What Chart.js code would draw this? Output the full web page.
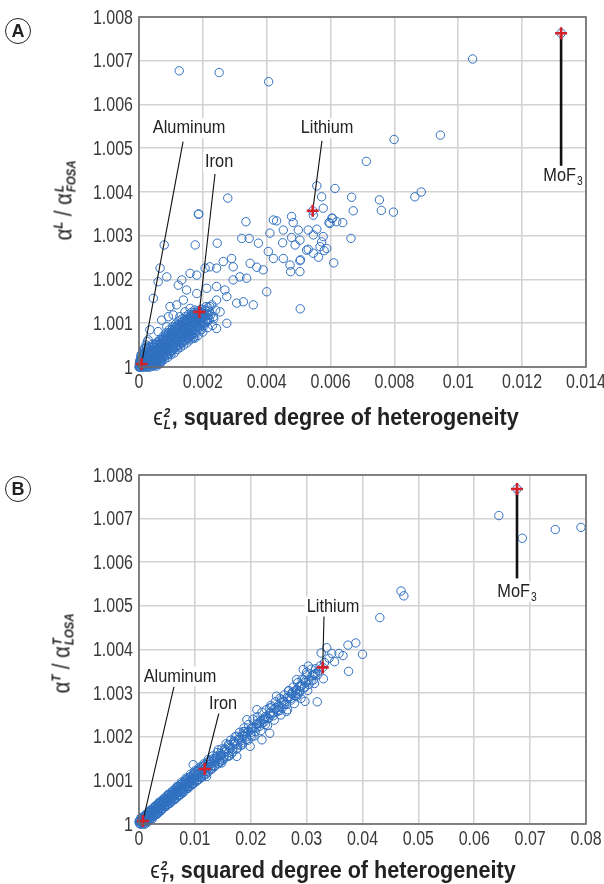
<!DOCTYPE html>
<html>
<head>
<meta charset="utf-8">
<script src="https://cdn.jsdelivr.net/npm/chart.js@4.4.1/dist/chart.umd.min.js"></script>
<style>
  body { margin: 0; background: #fff; }
  #wrap { position: relative; width: 604px; height: 884px; overflow: hidden;
          font-family: 'Liberation Sans', Arial, sans-serif; color: #222; }
  .panel { position: absolute; left: 0; width: 604px; height: 442px; }
  .tag { position: absolute; width: 24px; height: 24px; border: 1.5px solid #222; border-radius: 50%;
         font: bold 18px 'Liberation Sans', sans-serif; line-height: 24px; text-align: center; }
  .xt { position: absolute; transform: translate(-50%, -50%) scaleX(0.9); white-space: nowrap; font-size: 24px; font-weight: bold; }
  .yt { position: absolute; transform: translate(-50%, -50%) rotate(-90deg) scaleX(0.88); white-space: nowrap; font-size: 23px; }
  .ss { display: inline-flex; flex-direction: column; vertical-align: middle; font-size: 13px; line-height: 12px;
        font-weight: bold; font-style: italic; margin: 0 1px; }
  .sup1 { font-size: 13px; font-weight: bold; font-style: italic; vertical-align: 9px; }
</style>
</head>
<body>
<div id="wrap">
  <div class="panel" style="top:0"><canvas id="chartA" width="604" height="442"></canvas></div>
  <div class="panel" style="top:442px"><canvas id="chartB" width="604" height="442"></canvas></div>
  <div class="tag" style="left:5px;top:18px">A</div>
  <div class="tag" style="left:5px;top:476px">B</div>
  <div class="yt" style="left:64px;top:200px">α<span class="sup1">L</span> / α<span class="ss"><span>L</span><span>FOSA</span></span></div>
  <div class="yt" style="left:62px;top:653px">α<span class="sup1">T</span> / α<span class="ss"><span>T</span><span>LOSA</span></span></div>
  <div class="xt" style="left:336px;top:417px"><span style="font-weight:normal">ϵ</span><span class="ss"><span>2</span><span>L</span></span>, squared degree of heterogeneity</div>
  <div class="xt" style="left:333px;top:870px"><span style="font-weight:normal">ϵ</span><span class="ss"><span>2</span><span>T</span></span>, squared degree of heterogeneity</div>
</div>
<script>
// tick values and labels
const yTicks = [1, 1.001, 1.002, 1.003, 1.004, 1.005, 1.006, 1.007, 1.008];
const yTickLabels = ['1', '1.001', '1.002', '1.003', '1.004', '1.005', '1.006', '1.007', '1.008'];
const xTicksA = [0, 0.002, 0.004, 0.006, 0.008, 0.01, 0.012, 0.014];
const xTickLabelsA = ['0', '0.002', '0.004', '0.006', '0.008', '0.01', '0.012', '0.014'];
const xTicksB = [0, 0.01, 0.02, 0.03, 0.04, 0.05, 0.06, 0.07, 0.08];
const xTickLabelsB = ['0', '0.01', '0.02', '0.03', '0.04', '0.05', '0.06', '0.07', '0.08'];

// named materials
const materials = ['Aluminum', 'Iron', 'Lithium', 'MoF3'];
const markedA = [[0.00008, 1.00007], [0.00189, 1.00126], [0.00544, 1.00357], [0.01322, 1.00763]];
const markedB = [[0.0007, 1.00007], [0.01175, 1.00126], [0.03288, 1.00359], [0.06765, 1.00768]];

// panel A: eps_L^2 vs alpha_L / alpha_L,FOSA
const coreA = [
  [0,1],[0.00002,1.00002],[0.00005,1.00006],[0.00008,1.00003],[0.0001,1.0001],[0.00012,1.00005],[0.00015,1.00015],[0.00018,1.00008],
  [0.0002,1.0002],[0.00022,1.00012],[0.00025,1.00005],[0.00028,1.00025],[0.0003,1.00015],[0.00033,1.00032],[0.00035,1.00008],[0.00038,1.00022],
  [0.0004,1.0004],[0.00042,1.00012],[0.00045,1.0003],[0.00048,1.00048],[0.0005,1.0002],[0.00052,1.00038],[0.00055,1.00055],[0.00058,1.0001],
  [0.0006,1.0003],[0.00062,1.00045],[0.00065,1.00062],[0.00068,1.00022],[0.0007,1.00038],[0.00072,1.00052],[0.00075,1.0007],[0.00078,1.0003],
  [0.0008,1.00045],[0.00082,1.0006],[0.00085,1.00078],[0.00088,1.00035],[0.0009,1.00052],[0.00092,1.00068],[0.00095,1.00085],[0.00098,1.00042],
  [0.001,1.00058],[0.00102,1.00075],[0.00105,1.00092],[0.00108,1.0005],[0.0011,1.00065],[0.00112,1.00082],[0.00115,1.00098],[0.00118,1.00055],
  [0.0012,1.00072],[0.00122,1.00088],[0.00125,1.00105],[0.00128,1.0006],[0.0013,1.00078],[0.00132,1.00095],[0.00135,1.0011],[0.00138,1.00068],
  [0.0014,1.00085],[0.00142,1.001],[0.00145,1.00115],[0.00148,1.00072],[0.0015,1.0009],[0.00152,1.00105],[0.00155,1.0012],[0.00158,1.0008],
  [0.0016,1.00095],[0.00162,1.00112],[0.00165,1.00125],[0.00168,1.00085],[0.0017,1.00102],[0.00172,1.00118],[0.00175,1.0013],[0.0018,1.00092],
  [0.00182,1.00108],[0.00185,1.00122],[0.0019,1.001],[0.00192,1.00115],[0.00195,1.00132],[0.002,1.00105],[0.00205,1.0012],[0.0021,1.00138],
  [0.00215,1.0011],[0.0022,1.00128],[0.0023,1.00095],
  [0.00003,1.0001],[0.00006,1],[0.0001,1],[0.00013,1.0002],[0.00017,1.0003],[0.0002,1],[0.00024,1.00036],[0.00005,1.00018],[0.00008,1.00025],
  [0.00011,1.0003],[0.00014,1.0004],[0.0003,1],[0.0004,1.00004],[0.00002,1.00014],[0.00007,1.00012],[0.00016,1.00002],[0.00026,1.00018],
  [0.00036,1.00028],[0.00046,1.0004],[0.00056,1.00046],[0.00066,1.00052],[0.00076,1.0006],[0.00086,1.00066],[0.00096,1.00072],[0.00106,1.0008],
  [0.00116,1.00086],[0.00126,1.00092],[0.00136,1.00098],[0.00146,1.00102],[0.00156,1.00108],[0.00166,1.00114],[0.00176,1.00116],[0.0005,1.00005],
  [0.00062,1.00015],[0.00072,1.0002],[0.00084,1.00025],[0.00095,1.0003],[0.00105,1.00038],[0.00115,1.00045],[0.00125,1.00048],[0.00135,1.00055],
  [0.00145,1.0006],[0.00155,1.00066],[0.00165,1.00072],[0.00178,1.00078],[0.00195,1.00085],
  [0.00003,1.00005],[0.00007,1.00017],[0.00009,1.00007],[0.00013,1.00011],[0.00016,1.00024],[0.00019,1.00014],[0.00021,1.00028],[0.00023,1.00007],
  [0.00027,1.0001],[0.00029,1.00034],[0.00031,1.00022],[0.00034,1.00016],[0.00037,1.00038],[0.00039,1.00012],[0.00041,1.00027],[0.00043,1.00045],
  [0.00044,1.0002],[0.00047,1.0001],[0.00049,1.00033],[0.00051,1.00052],[0.00053,1.00015],[0.00054,1.00027],[0.00057,1.00041],[0.00059,1.00058],
  [0.00061,1.00022],[0.00063,1.00035],[0.00064,1.0005],[0.00067,1.00012],[0.00069,1.0003],[0.00071,1.00045],[0.00073,1.00063],[0.00074,1.00025],
  [0.00077,1.0004],[0.00079,1.00055],[0.00081,1.00036],[0.00083,1.00072],[0.00086,1.00048],[0.00087,1.00028],[0.00089,1.00062],[0.00091,1.00042],
  [0.00093,1.00078],[0.00094,1.00056],[0.00097,1.00036],[0.00099,1.00068],[0.00101,1.00048],[0.00103,1.00085],[0.00104,1.00062],[0.00107,1.00042],
  [0.00109,1.00074],[0.00111,1.00056],[0.00113,1.0009],[0.00114,1.00068],[0.00117,1.00048],[0.00119,1.0008],[0.00121,1.00062],[0.00123,1.00097],
  [0.00124,1.00075],[0.00127,1.00052],[0.00129,1.00086],[0.00131,1.00068],[0.00133,1.00102],[0.00134,1.0008],[0.00137,1.0006],[0.00139,1.00092],
  [0.00141,1.00074],[0.00143,1.00107],[0.00144,1.00086],[0.00147,1.00066],[0.00149,1.00098],[0.00151,1.0008],[0.00153,1.00112],[0.00154,1.00092],
  [0.00157,1.0007],[0.00159,1.00104],[0.00161,1.00086],[0.00163,1.00118],[0.00164,1.00098],[0.00167,1.00076],[0.00169,1.0011],[0.00171,1.00092],
  [0.00173,1.00124],[0.00174,1.00104],[0.00177,1.00084],[0.00179,1.00114],[0.00181,1.00098],[0.00183,1.00128],[0.00186,1.0011],[0.00188,1.0009],
  [0.0019,1.0012],[0.00193,1.00104],[0.00196,1.00124],[0.00198,1.00095],[0.00202,1.00114],[0.00206,1.0013],[0.00208,1.00102],[0.00212,1.00122],
  [0.00216,1.00136],[0.0022,1.00108],[0.00225,1.0012],[0.00228,1.00142],[0.00234,1.0011],[0.0024,1.0013],[0.00012,1.00034],[0.00018,1.00042],
  [0.00022,1.0005],[0.00026,1.00058],[0.0001,1.00022],[0.00006,1.00028],[0.00004,1],[0.00014,1],[0.00024,1],[0.00035,1],
  [0.00045,1.00002],[0.00055,1.00002],[0.00062,1.00006],[0.0007,1.00012],[0.0008,1.00018],[0.0009,1.00022],[0.001,1.00028],[0.0011,1.00032],
  [0.0012,1.0004],[0.0013,1.00045],[0.0014,1.0005],[0.0015,1.00055],[0.0016,1.00062],[0.0017,1.00066],[0.00185,1.00072],[0.002,1.0008],
  [0.00215,1.0009]
];
const denseA = [
  [0.00001,1.00008],[0.00004,1.00013],[0.00006,1.00022],[0.00009,1.00015],[0.00011,1.00004],[0.00014,1.00028],[0.00017,1.00018],[0.00019,1.00006],
  [0.00021,1.00036],[0.00024,1.00024],[0.00026,1.0001],[0.00027,1.00042],[0.00031,1.0003],[0.00032,1.00006],[0.00034,1.00046],[0.00037,1.00018],
  [0.00039,1.00034],[0.00042,1.00052],[0.00043,1.00024],[0.00046,1.00014],[0.00047,1.00036],[0.0005,1.00044],[0.00052,1.00028],[0.00053,1.00006],
  [0.00056,1.00036],[0.00058,1.0005],[0.0006,1.00018],[0.00063,1.00042],[0.00064,1.00027],[0.00067,1.00056],[0.00069,1.00044],[0.0007,1.00016],
  [0.00073,1.00034],[0.00075,1.0005],[0.00077,1.00064],[0.00079,1.00024],[0.00081,1.00048],[0.00083,1.0004],[0.00086,1.00058],[0.00088,1.00072],
  [0.0009,1.0003],[0.00092,1.00046],[0.00094,1.00064],[0.00097,1.00052],[0.00099,1.00078],[0.00101,1.00036],[0.00103,1.0006],[0.00105,1.0007],
  [0.00107,1.00084],[0.00109,1.00044],[0.00111,1.00066],[0.00113,1.00076],[0.00116,1.00092],[0.00118,1.00062],[0.0012,1.0005],[0.00122,1.0008],
  [0.00124,1.00068],[0.00126,1.00096],[0.00128,1.00074],[0.00131,1.00056],[0.00133,1.00086],[0.00135,1.00076],[0.00137,1.00104],[0.00139,1.0008],
  [0.00141,1.00062],[0.00143,1.00092],[0.00146,1.00082],[0.00148,1.00108],[0.0015,1.00076],[0.00152,1.00066],[0.00154,1.00098],[0.00156,1.00088],
  [0.00158,1.00114],[0.0016,1.0008],[0.00163,1.00074],[0.00165,1.00104],[0.00167,1.00094],[0.0017,1.0012],[0.00172,1.00086],[0.00174,1.0008],
  [0.00176,1.0011],[0.00179,1.001],[0.00181,1.00124],[0.00184,1.00092],[0.00187,1.00116],[0.00189,1.00106],[0.00192,1.00126],[0.00194,1.00098],
  [0.00197,1.00112],[0.002,1.00122],[0.00203,1.001],[0.00207,1.00116],[0.00211,1.00128],[0.00214,1.00104],[0.00218,1.00118],[0.00002,1],
  [0.00008,1.00009],[0.00015,1.00009],[0.00028,1.00002],[0.0004,1.00008],[0.00048,1.00016],[0.00055,1.00012],[0.00066,1.00008]
];
const spreadA = [
  [0.00278,1.00386],[0.00186,1.00349],[0.00187,1.0035],[0.00079,1.00279],[0.00176,1.00279],[0.00245,1.00283],[0.00335,1.00332],[0.00322,1.00294],
  [0.00345,1.00294],[0.00374,1.00283],[0.0041,1.00306],[0.00421,1.00336],[0.00431,1.00334],[0.00452,1.00313],[0.00478,1.00344],[0.0045,1.00284],
  [0.00405,1.00264],[0.00421,1.00248],[0.00452,1.00248],[0.00473,1.00233],[0.00504,1.00243],[0.00525,1.00267],[0.00546,1.0026],[0.00562,1.00251],
  [0.00588,1.00271],[0.00572,1.00286],[0.00598,1.00328],[0.00619,1.00332],[0.00577,1.00298],[0.00504,1.00218],[0.004,1.00172],[0.00358,1.00142],
  [0.00327,1.00149],[0.00389,1.00222],[0.00369,1.00228],[0.00337,1.00203],[0.00348,1.00237],[0.00316,1.00206],[0.00295,1.00199],[0.00295,1.00229],
  [0.0029,1.00248],[0.00264,1.00241],[0.00243,1.00226],[0.00222,1.00229],[0.00207,1.00226],[0.00181,1.0021],[0.0016,1.00214],[0.00134,1.00199],
  [0.00123,1.00187],[0.00149,1.00176],[0.00181,1.00168],[0.00212,1.0018],[0.00243,1.00184],[0.00269,1.00176],[0.00275,1.00161],[0.00243,1.00153],
  [0.00222,1.00138],[0.00254,1.00126],[0.00233,1.00115],[0.00201,1.00092],[0.0017,1.00069],[0.00243,1.00088],[0.00275,1.001],[0.00306,1.00146],
  [0.00066,1.00226],[0.00087,1.00206],[0.0006,1.00195],[0.00045,1.00157],[0.00097,1.00138],[0.00092,1.00115],[0.00071,1.00107],[0.00118,1.00142],
  [0.00139,1.00153],[0.00144,1.00126],[0.0016,1.00134],[0.00128,1.00115],[0.00107,1.00119],[0.00087,1.00092],[0.0006,1.00081],[0.00034,1.00085],
  [0.00029,1.00062],[0.00024,1.00046],[0.0017,1.00114],[0.00196,1.00123],[0.00212,1.00107],[0.00191,1.00085],[0.00175,1.00066],[0.00144,1.00081],
  [0.00118,1.00092]
];
const farA = [
  [0.00126,1.00677],[0.00251,1.00673],[0.00406,1.00652],[0.01045,1.00704],[0.00944,1.0053],[0.00799,1.0052],[0.00712,1.0047],[0.00884,1.004],
  [0.00864,1.00389],[0.00753,1.00382],[0.00759,1.00358],[0.00797,1.00354],[0.00614,1.00408],[0.00666,1.00388],[0.00671,1.00357],[0.00557,1.00414],
  [0.00572,1.00389],[0.00577,1.00363],[0.00638,1.0033],[0.00595,1.0033],[0.00606,1.0034],[0.00664,1.00294],[0.0061,1.00238],[0.00505,1.00133],
  [0.00483,1.0033],[0.00499,1.00313],[0.0053,1.00313],[0.00557,1.00315],[0.00546,1.00302],[0.00478,1.00296],[0.00504,1.0029],[0.00489,1.00279],
  [0.0053,1.00269],[0.00567,1.00275],[0.0058,1.00266],[0.00506,1.00245],[0.00475,1.00218],[0.00546,1.00347],[0.00604,1.0034]
];

// panel B: eps_T^2 vs alpha_T / alpha_T,LOSA
const coreB = [
  [0.0001,1.00002],[0.0003,1.00005],[0.0005,1.00003],[0.0006,1.00008],[0.0008,1.00006],[0.001,1.00012],[0.0012,1.0001],[0.0014,1.00017],
  [0.0015,1.00012],[0.0017,1.0002],[0.0019,1.00018],[0.002,1.00025],[0.0022,1.0002],[0.0024,1.00028],[0.0026,1.00025],[0.0028,1.00032],
  [0.003,1.0003],[0.0032,1.00038],[0.0034,1.00034],[0.0036,1.00042],[0.0038,1.00038],[0.004,1.00046],[0.0042,1.00043],[0.0044,1.0005],
  [0.0046,1.00047],[0.0048,1.00055],[0.005,1.0005],[0.0052,1.0006],[0.0054,1.00056],[0.0056,1.00064],[0.0058,1.0006],[0.006,1.00068],
  [0.0062,1.00063],[0.0064,1.00072],[0.0066,1.00068],[0.0068,1.00076],[0.007,1.00072],[0.0072,1.00082],[0.0074,1.00077],[0.0076,1.00086],
  [0.0078,1.0008],[0.008,1.0009],[0.0082,1.00085],[0.0085,1.00095],[0.0088,1.00092],[0.009,1.001],[0.0093,1.00096],[0.0096,1.00106],
  [0.0099,1.00103],[0.0102,1.00112],[0.0105,1.00108],[0.0108,1.00118],[0.0111,1.00115],[0.0114,1.00124],[0.0117,1.0012],[0.012,1.0013],
  [0.0123,1.00128],[0.0126,1.00136],[0.013,1.00133],[0.0133,1.00144],[0.0137,1.00142],[0.014,1.0015],[0.0144,1.00148],[0.0148,1.00158],
  [0.0152,1.00155],[0.0156,1.00166],[0.016,1.00164],[0.0164,1.00174],[0.0168,1.00172],[0.0172,1.00184],[0.0176,1.00182],[0.018,1.00193],
  [0.0184,1.00192],[0.0188,1.00202],[0.0192,1.002],[0.0196,1.00212],[0.02,1.0021],[0.0205,1.0022],[0.021,1.0022],[0.0215,1.00232],
  [0.022,1.0023],[0.0225,1.00242],[0.023,1.00242],[0.0235,1.00255],[0.024,1.00255],[0.0245,1.00266],[0.025,1.00268],[0.0255,1.00278],
  [0.026,1.0028],[0.0265,1.0029],[0.027,1.00292],[0.0275,1.00302],[0.028,1.00305],[0.0286,1.00315],[0.0292,1.00318],[0.0298,1.00328],
  [0.0304,1.0033],[0.031,1.0034],[0.0316,1.00345],[0.0322,1.00352],
  [0.0002,1],[0.0004,1.00009],[0.0007,1],[0.0009,1.00014],[0.0011,1.00005],[0.0013,1.0002],[0.0016,1.0001],[0.0018,1.00026],
  [0.0021,1.00014],[0.0023,1.00032],[0.0027,1.0002],[0.0029,1.00038],[0.0033,1.00028],[0.0035,1.00046],[0.0039,1.00032],[0.0041,1.00052],
  [0.0045,1.0004],[0.0047,1.0006],[0.0051,1.00045],[0.0053,1.00066],[0.0057,1.00054],[0.0059,1.00072],[0.0063,1.00058],[0.0065,1.00078],
  [0.0069,1.00066],[0.0071,1.00086],[0.0075,1.00072],[0.0077,1.00092],[0.0081,1.0008],[0.0084,1.00102],[0.0087,1.00086],[0.0091,1.00108],
  [0.0095,1.00092],[0.0098,1.00114],[0.0101,1.00102],[0.0106,1.00122],[0.011,1.00108],[0.0115,1.00132],[0.012,1.0012],[0.0125,1.00144],
  [0.0132,1.00128],[0.0138,1.00154],[0.0146,1.00142],[0.0154,1.00172],[0.0162,1.00156],[0.017,1.0019],[0.0182,1.0018],[0.019,1.00212],
  [0.0202,1.002],[0.0212,1.00238],[0.0226,1.00228],[0.0238,1.00268],[0.0252,1.0026],[0.0268,1.00305],[0.0282,1.00292],[0.03,1.00342],
  [0.0312,1.0033],
  [0.0004,1.00015],[0.0008,1],[0.0012,1.00022],[0.0016,1.00005],[0.002,1.00032],[0.0024,1.00012],[0.0028,1.0004],[0.0032,1.00022],
  [0.0036,1.0005],[0.004,1.00032],[0.0044,1.00058],[0.0048,1.0004],[0.0052,1.00068],[0.0056,1.00048],[0.006,1.00076],[0.0064,1.00056],
  [0.0068,1.00086],[0.0072,1.00066],[0.0076,1.00096],[0.008,1.00074],[0.0084,1.00105],[0.0088,1.00082],[0.0092,1.00114],[0.0096,1.00092],
  [0.01,1.00122],[0.0104,1.001],[0.0108,1.0013],[0.0112,1.00108],[0.0116,1.00138],[0.012,1.00114],[0.0124,1.00148],[0.0128,1.00124],
  [0.0132,1.00156],[0.0136,1.00134],[0.014,1.00164],[0.0144,1.00142],[0.0148,1.00172],[0.0152,1.0015],[0.0156,1.00184],[0.016,1.00156],
  [0.0164,1.00192],[0.0168,1.00166],[0.0172,1.002],[0.0176,1.00174],[0.018,1.0021],[0.0184,1.00186],[0.0188,1.0022],[0.0192,1.00194],
  [0.0196,1.00228],[0.02,1.00204],[0.0204,1.0024],[0.0208,1.00212],[0.0212,1.00246],[0.0216,1.00224],[0.022,1.00256],[0.0224,1.00234],
  [0.0228,1.00262],[0.0232,1.00242],[0.0236,1.00272],[0.024,1.00248],[0.0244,1.0028],[0.0248,1.00258],[0.0252,1.00288],[0.0256,1.00266],
  [0.026,1.00296],[0.0264,1.00274],[0.0268,1.00306],[0.0272,1.00284],[0.0276,1.00314],[0.028,1.00294],[0.0284,1.00324],[0.0288,1.00304],
  [0.0292,1.00332],[0.0296,1.00312],[0.03,1.00348],[0.0304,1.0032],[0.0308,1.00355],[0.0312,1.00342],[0.0316,1.00356],[0.032,1.00342],
  [0.0324,1.00362],[0.0332,1.0037],[0.034,1.0038],[0.035,1.00372],[0.0365,1.00386],
  [0.0001,1.00008],[0.0003,1],[0.0006,1.00013],[0.0009,1.00004],[0.0013,1.00012],[0.0017,1.00014],[0.0021,1.00022],[0.0025,1.0002],
  [0.0029,1.0003],[0.0033,1.00036],[0.0037,1.00035],[0.0041,1.00044],[0.0045,1.00048],[0.0049,1.0005],[0.0053,1.00058],[0.0057,1.0006],
  [0.0061,1.00066],[0.0065,1.0007],[0.0069,1.00074],[0.0073,1.0008],[0.0077,1.00082],[0.0081,1.00088],[0.0086,1.00092],[0.009,1.00096],
  [0.0094,1.00102],[0.0098,1.00106],[0.0103,1.0011],[0.0107,1.00116],[0.0112,1.0012],[0.0117,1.00126],[0.0122,1.00132],[0.0128,1.00138],
  [0.0134,1.00146],[0.014,1.00152],[0.0146,1.00158],[0.0154,1.00166],[0.0162,1.00176],[0.017,1.00184],[0.0178,1.00194],[0.0186,1.00202],
  [0.0194,1.0021],[0.0202,1.0022],[0.021,1.00228],[0.0218,1.00236],[0.0226,1.00246],[0.0234,1.00254],[0.0242,1.00264],[0.025,1.00272],
  [0.0258,1.00282],[0.0266,1.0029],[0.0274,1.00298],[0.0282,1.00308],[0.029,1.00316],[0.0298,1.00324]
];
const denseB = [
  [0,1.00005],[0.0002,1.0001],[0.0005,1.00012],[0.0007,1.00004],[0.001,1.00018],[0.0011,1],[0.0014,1.00022],[0.0015,1.00006],
  [0.0018,1.00028],[0.0019,1.0001],[0.0022,1.00032],[0.0023,1.00014],[0.0026,1.00036],[0.0027,1.00018],[0.003,1.00042],[0.0031,1.00022],
  [0.0034,1.00046],[0.0035,1.00026],[0.0038,1.0005],[0.0039,1.0003],[0.0042,1.00054],[0.0043,1.00036],[0.0046,1.00058],[0.0047,1.0004],
  [0.005,1.00064],[0.0051,1.00044],[0.0054,1.00068],[0.0055,1.00048],[0.0058,1.00072],[0.0059,1.00052],[0.0062,1.00076],[0.0063,1.00056],
  [0.0066,1.00082],[0.0067,1.0006],[0.007,1.00086],[0.0071,1.00064],[0.0074,1.0009],[0.0075,1.00068],[0.0078,1.00094],[0.0079,1.00072],
  [0.0082,1.00098],[0.0083,1.00078],[0.0086,1.00102],[0.0087,1.00082],[0.009,1.00106],[0.0091,1.00086],[0.0094,1.0011],[0.0095,1.0009],
  [0.0098,1.00116],[0.0099,1.00094],[0.0102,1.0012],[0.0103,1.00098],[0.0106,1.00124],[0.0107,1.00102],[0.011,1.00128],[0.0111,1.00106],
  [0.0114,1.00132],[0.0115,1.0011],[0.0118,1.00136],[0.0119,1.00114],[0.0122,1.0014],[0.0124,1.0012],[0.0127,1.00144],[0.0129,1.00126],
  [0.0133,1.0015],[0.0135,1.00132],[0.0139,1.00156],[0.0142,1.00138],[0.0146,1.00162],[0.0149,1.00146],[0.0153,1.0017],[0.0157,1.00154],
  [0.0161,1.0018],[0.0166,1.00162],[0.017,1.00188],[0.0175,1.00172],[0.018,1.00198],[0.0185,1.00182],[0.019,1.00208],[0.0195,1.00192],
  [0.02,1.00218],[0.0206,1.00202],[0.0212,1.0023],[0.0218,1.00214],[0.0224,1.0024],[0.023,1.00226],[0.0236,1.0025],[0.0242,1.00238],
  [0.0248,1.00262],[0.0254,1.0025],[0.026,1.00274],[0.0266,1.00262],[0.0272,1.00288],[0.0278,1.00276],[0.0284,1.003],[0.029,1.00288],
  [0.0296,1.00314],[0.0302,1.00306],[0.0308,1.00328],[0.0314,1.00322]
];
const spreadB = [
  [0.0644,1.00707],[0.0686,1.00655],[0.0745,1.00675],[0.0791,1.0068],[0.0469,1.00534],[0.0474,1.00523],[0.0431,1.00473],[0.0388,1.00415],
  [0.0374,1.0041],[0.0336,1.00404],[0.04,1.00389],[0.0358,1.00391],[0.0345,1.00391],[0.0326,1.00392],[0.0375,1.0035],[0.0319,1.0028],
  [0.033,1.00333],[0.0315,1.00343],[0.0294,1.00354],[0.0303,1.00362],[0.0295,1.00331],[0.0282,1.00331],[0.0288,1.00316],[0.0285,1.00297],
  [0.0297,1.00281],[0.0273,1.003],[0.0264,1.00258],[0.0255,1.00285],[0.0246,1.00293],[0.0234,1.00266],[0.0234,1.00208],[0.0222,1.00239],
  [0.022,1.00193],[0.0211,1.00262],[0.0202,1.0022],[0.0193,1.00239],[0.0187,1.00212],[0.0199,1.00178],[0.0175,1.00201],[0.0175,1.00155],
  [0.016,1.00182],[0.0142,1.0017],[0.0148,1.0014],[0.0097,1.00136],[0.0121,1.00109],[0.0091,1.00097]
];

// callouts: label centre, line start, line end (data units)
const calloutsA = [
  { text: 'Aluminum', at: [0.00157, 1.00546], from: [0.00138, 1.00515], to: markedA[0] },
  { text: 'Iron', at: [0.00251, 1.00468], from: [0.00238, 1.00441], to: markedA[1] },
  { text: 'Lithium', at: [0.00589, 1.00546], from: [0.00573, 1.00517], to: markedA[2] },
  { text: 'MoF', sub: '3', at: [0.01328, 1.00437], from: [0.01322, 1.00457], to: markedA[3], width: 2.6 }
];
const calloutsB = [
  { text: 'Aluminum', at: [0.00734, 1.00338], from: [0.00626, 1.00315], to: markedB[0] },
  { text: 'Iron', at: [0.01503, 1.00276], from: [0.01432, 1.00255], to: markedB[1] },
  { text: 'Lithium', at: [0.03472, 1.00499], from: [0.03311, 1.00476], to: markedB[2] },
  { text: 'MoF', sub: '3', at: [0.06765, 1.00533], from: [0.06765, 1.00563], to: markedB[3], width: 2.6 }
];

const FONT = "'Liberation Sans', Arial, sans-serif";
Chart.defaults.font.family = FONT;

// condensed text, like the narrow face in the original figure
function narrowText(ctx, str, x, y, align, squeeze) {
  ctx.save();
  ctx.translate(x, y);
  ctx.scale(squeeze, 1);
  ctx.textAlign = align;
  ctx.fillText(str, 0, 0);
  ctx.restore();
}

const callouts = {
  id: 'callouts',
  afterDatasetDraw(chart, args, opts) {
    if (args.index !== 0) return;
    const { ctx, scales: { x, y } } = chart;
    ctx.save();
    ctx.strokeStyle = '#111';
    for (const c of opts.items) {
      ctx.lineWidth = c.width || 1.1;
      ctx.beginPath();
      ctx.moveTo(x.getPixelForValue(c.from[0]), y.getPixelForValue(c.from[1]));
      ctx.lineTo(x.getPixelForValue(c.to[0]), y.getPixelForValue(c.to[1]));
      ctx.stroke();
    }
    ctx.restore();
  },
  afterDraw(chart, args, opts) {
    const { ctx, chartArea: a, scales: { x, y } } = chart;
    ctx.save();
    ctx.strokeStyle = '#6a6a6a';
    ctx.lineWidth = 1.6;
    ctx.strokeRect(a.left, a.top, a.right - a.left, a.bottom - a.top);

    // tick labels
    ctx.font = '20px ' + FONT;
    ctx.fillStyle = '#3a3a3a';
    ctx.textBaseline = 'middle';
    yTicks.forEach((v, i) => narrowText(ctx, yTickLabels[i], a.left - 6, y.getPixelForValue(v) + 1, 'right', 0.8));
    opts.xTicks.forEach((v, i) => narrowText(ctx, opts.xLabels[i], x.getPixelForValue(v), a.bottom + 15, 'center', 0.8));

    // callout labels
    const sq = 0.86;
    for (const c of opts.items) {
      const px = x.getPixelForValue(c.at[0]), py = y.getPixelForValue(c.at[1]);
      ctx.font = '19px ' + FONT;
      const w = ctx.measureText(c.text).width * sq;
      ctx.font = '12px ' + FONT;
      const ws = c.sub ? ctx.measureText(c.sub).width * sq + 1 : 0;
      const left = px - (w + ws) / 2;
      ctx.fillStyle = '#fff';
      ctx.fillRect(left - 2, py - 10, w + ws + 4, 20);
      ctx.fillStyle = '#222';
      ctx.font = '19px ' + FONT;
      narrowText(ctx, c.text, left, py, 'left', sq);
      if (c.sub) {
        ctx.font = '12px ' + FONT;
        narrowText(ctx, c.sub, left + w + 1, py + 6, 'left', sq);
      }
    }
    ctx.restore();
  }
};

function toXY(list) {
  return list.map(p => ({ x: p[0], y: p[1] }));
}

function makePanel(id, opt) {
  return new Chart(document.getElementById(id), {
    type: 'scatter',
    data: {
      datasets: [
        {
          label: 'compounds',
          data: toXY(opt.points),
          pointStyle: 'circle',
          pointRadius: 4.2,
          pointHoverRadius: 4.2,
          borderColor: '#2f6fc0',
          backgroundColor: 'rgba(0,0,0,0)',
          borderWidth: 1,
          clip: 8,
          order: 2
        },
        {
          label: 'named',
          data: toXY(opt.marked),
          pointStyle: 'cross',
          pointRadius: 6,
          borderColor: '#d3222b',
          borderWidth: 2.6,
          clip: 8,
          order: 1
        }
      ]
    },
    options: {
      responsive: false,
      animation: false,
      devicePixelRatio: 1,
      layout: { padding: { top: opt.padTop, right: 18, left: 0, bottom: 0 } },
      plugins: {
        legend: { display: false },
        tooltip: { enabled: false },
        callouts: { items: opt.callouts, xTicks: opt.xTicks, xLabels: opt.xLabels }
      },
      scales: {
        x: {
          type: 'linear',
          min: 0,
          max: opt.xTicks[opt.xTicks.length - 1],
          afterBuildTicks: s => { s.ticks = opt.xTicks.map(v => ({ value: v })); },
          afterFit: s => { s.height = opt.xAxisHeight; s.paddingLeft = 0; s.paddingRight = 0; },
          ticks: { display: false },
          grid: { color: '#d3d3d3', lineWidth: 1.6, drawTicks: false },
          border: { display: false }
        },
        y: {
          type: 'linear',
          min: 1,
          max: 1.008,
          afterBuildTicks: s => { s.ticks = yTicks.map(v => ({ value: v })); },
          afterFit: s => { s.width = 139; s.paddingTop = 0; s.paddingBottom = 0; },
          ticks: { display: false },
          grid: { color: '#d3d3d3', lineWidth: 1.6, drawTicks: false },
          border: { display: false }
        }
      }
    },
    plugins: [callouts]
  });
}

makePanel('chartA', {
  points: coreA.concat(denseA, spreadA, farA, markedA),
  marked: markedA,
  xTicks: xTicksA,
  xLabels: xTickLabelsA,
  callouts: calloutsA,
  padTop: 17,
  xAxisHeight: 75
});

makePanel('chartB', {
  points: coreB.concat(denseB, spreadB, markedB),
  marked: markedB,
  xTicks: xTicksB,
  xLabels: xTickLabelsB,
  callouts: calloutsB,
  padTop: 33,
  xAxisHeight: 60
});
</script>
</body>
</html>
